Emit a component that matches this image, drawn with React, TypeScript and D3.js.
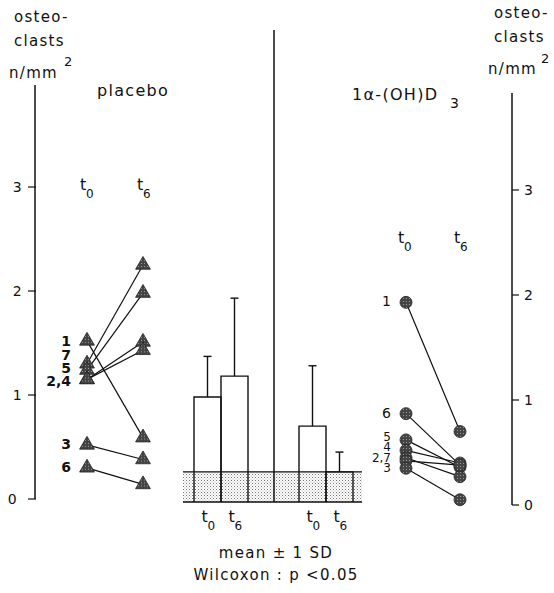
import React from "react";
import * as d3 from "d3";

const ticks = [0, 1, 2, 3];

const placeboIds = ["1", "7", "5", "2", "4", "3", "6"];
const placeboT0 = [1.52, 1.3, 1.24, 1.15, 1.15, 0.52, 0.3];
const placeboT6 = [0.59, 2.25, 1.98, 1.51, 1.43, 0.38, 0.14];
const placeboLabels = ["1", "7", "5", "2,4", "3", "6"];
const placeboLabelVals = [1.52, 1.38, 1.26, 1.13, 0.53, 0.31];

const vitIds = ["1", "6", "5", "4", "2", "7", "3"];
const vitT0 = [1.93, 0.87, 0.62, 0.52, 0.45, 0.42, 0.35];
const vitT6 = [0.7, 0.38, 0.36, 0.4, 0.27, 0.38, 0.05];
const vitLabels = ["1", "6", "5", "4", "2,7", "3"];
const vitLabelVals = [1.93, 0.87, 0.65, 0.55, 0.45, 0.35];

const barGroups = ["placebo t0", "placebo t6", "vit t0", "vit t6"];
const barMeans = [1.01, 1.21, 0.73, 0.29];
const barSD = [0.39, 0.75, 0.58, 0.19];
const barTimeLabels = ["0", "6", "0", "6"];
const normalRange = 0.29;

const font = "'DejaVu Sans', sans-serif";

export default function App() {
  const yL = d3.scaleLinear().domain([0, 3]).range([499, 187]);
  const yR = d3.scaleLinear().domain([0, 3]).range([505, 190]);
  const yM = d3.scaleLinear().domain([0, 3]).range([502, 190]);
  const barX = d3.scaleOrdinal<string, number>().domain(barGroups).range([194, 221, 299, 326]);
  const barW = 27;

  const xPl0 = 87, xPl6 = 143;
  const xV0 = 406, xV6 = 460;

  const tri = d3.symbol().type(d3.symbolTriangle).size(95);

  const textStyle: React.CSSProperties = { fontFamily: font, letterSpacing: "1.3px" };

  return (
    <svg width={554} height={593} style={{ position: "absolute", left: 0, top: 0, background: "#fff" }}>
      <defs>
        <pattern id="dots" width="3" height="3" patternUnits="userSpaceOnUse">
          <rect width="3" height="3" fill="#fff" />
          <rect x="0" y="0" width="1" height="1" fill="#777" />
          <rect x="1.5" y="1.5" width="1" height="1" fill="#aaa" />
        </pattern>
        <pattern id="stip" width="3" height="3" patternUnits="userSpaceOnUse">
          <rect width="3" height="3" fill="#444" />
          <rect x="1" y="1" width="1" height="1" fill="#999" />
        </pattern>
      </defs>

      {/* Left axis title */}
      <g fontSize={15} fill="#111" style={textStyle}>
        <text x={14} y={22}>osteo-</text>
        <text x={14} y={46}>clasts</text>
        <text x={9} y={78}>n/mm</text>
        <text x={64} y={66} fontSize={13}>2</text>
        <text x={97} y={96} fontSize={16}>placebo</text>
      </g>
      {/* Right axis title */}
      <g fontSize={15} fill="#111" style={textStyle}>
        <text x={494} y={18}>osteo-</text>
        <text x={494} y={42}>clasts</text>
        <text x={488} y={74}>n/mm</text>
        <text x={541} y={63} fontSize={13}>2</text>
        <text x={352} y={100} fontSize={16}>1α-(OH)D</text>
        <text x={450} y={108} fontSize={14}>3</text>
      </g>

      {/* Left axis */}
      <line x1={35} x2={35} y1={85} y2={yL(0)} stroke="#111" strokeWidth={1.5} />
      {ticks.map((t) => (
        <g key={"lt" + t}>
          <line x1={28} x2={36} y1={yL(t)} y2={yL(t)} stroke="#111" strokeWidth={1.2} />
          <text x={t === 0 ? 18 : 23} y={yL(t) + 5} fontSize={14} textAnchor="end" style={textStyle} fill="#111">
            {t}
          </text>
        </g>
      ))}

      {/* Right axis */}
      <line x1={512} x2={512} y1={93} y2={yR(0)} stroke="#111" strokeWidth={1.5} />
      {ticks.map((t) => (
        <g key={"rt" + t}>
          <line x1={512} x2={519} y1={yR(t)} y2={yR(t)} stroke="#111" strokeWidth={1.2} />
          <text x={524} y={yR(t) + 5} fontSize={14} style={textStyle} fill="#111">
            {t}
          </text>
        </g>
      ))}

      {/* time labels */}
      <g fontSize={16} fill="#111" style={{ fontFamily: font }}>
        <text x={80} y={190}>t</text>
        <text x={86} y={198} fontSize={12}>0</text>
        <text x={137} y={190}>t</text>
        <text x={143} y={198} fontSize={12}>6</text>
        <text x={398} y={243}>t</text>
        <text x={404} y={251} fontSize={12}>0</text>
        <text x={454} y={243}>t</text>
        <text x={460} y={251} fontSize={12}>6</text>
      </g>

      {/* Placebo lines */}
      {placeboIds.map((id, i) => (
        <line key={"pl" + i} x1={xPl0} y1={yL(placeboT0[i])} x2={xPl6} y2={yL(placeboT6[i])} stroke="#111" strokeWidth={1.2} />
      ))}
      {placeboIds.map((id, i) => (
        <g key={"pt" + i}>
          <path d={tri()!} transform={`translate(${xPl0},${yL(placeboT0[i])})`} fill="url(#stip)" stroke="#222" strokeWidth={0.8} />
          <path d={tri()!} transform={`translate(${xPl6},${yL(placeboT6[i])})`} fill="url(#stip)" stroke="#222" strokeWidth={0.8} />
        </g>
      ))}
      {placeboLabels.map((l, i) => (
        <text key={"plab" + i} x={71} y={yL(placeboLabelVals[i]) + 5} textAnchor="end" fontSize={14} fontWeight={600} fill="#111" style={{ fontFamily: font }}>
          {l}
        </text>
      ))}

      {/* Vitamin lines */}
      {vitIds.map((id, i) => (
        <line key={"vl" + i} x1={xV0} y1={yR(vitT0[i])} x2={xV6} y2={yR(vitT6[i])} stroke="#111" strokeWidth={1.2} />
      ))}
      {vitIds.map((id, i) => (
        <g key={"vp" + i}>
          <circle cx={xV0} cy={yR(vitT0[i])} r={6} fill="url(#stip)" stroke="#222" strokeWidth={0.8} />
          <circle cx={xV6} cy={yR(vitT6[i])} r={6} fill="url(#stip)" stroke="#222" strokeWidth={0.8} />
        </g>
      ))}
      {vitLabels.map((l, i) => (
        <text key={"vlab" + i} x={391} y={yR(vitLabelVals[i]) + 4} textAnchor="end" fontSize={i >= 2 ? 12 : 14} fill="#111" style={{ fontFamily: font }}>
          {l}
        </text>
      ))}

      {/* Middle bars */}
      {barGroups.map((g, i) => (
        <rect key={"bw" + i} x={barX(g)} y={yM(barMeans[i])} width={barW} height={yM(0) - yM(barMeans[i])} fill="#fff" />
      ))}
      <rect x={183} y={yM(normalRange)} width={362 - 183} height={yM(0) - yM(normalRange)} fill="url(#dots)" />
      <line x1={183} x2={362} y1={yM(normalRange)} y2={yM(normalRange)} stroke="#111" strokeWidth={1.2} />
      <line x1={183} x2={362} y1={yM(0)} y2={yM(0)} stroke="#111" strokeWidth={1.5} />
      <line x1={274} x2={274} y1={30} y2={yM(0)} stroke="#111" strokeWidth={1.5} />
      {barGroups.map((g, i) => {
        const x0 = barX(g);
        const m = barMeans[i];
        const cx = x0 + barW / 2;
        return (
          <g key={"b" + i}>
            <path d={`M${x0},${yM(0)}V${yM(m)}H${x0 + barW}V${yM(0)}`} fill="none" stroke="#111" strokeWidth={1.4} />
            <line x1={cx} x2={cx} y1={yM(m)} y2={yM(m + barSD[i])} stroke="#111" strokeWidth={1.4} />
            <line x1={cx - 4} x2={cx + 4} y1={yM(m + barSD[i])} y2={yM(m + barSD[i])} stroke="#111" strokeWidth={1.4} />
            <text x={cx - 6} y={522} fontSize={16} fill="#111" style={{ fontFamily: font }}>t</text>
            <text x={cx} y={530} fontSize={12} fill="#111" style={{ fontFamily: font }}>{barTimeLabels[i]}</text>
          </g>
        );
      })}

      {/* Bottom notes */}
      <g fontSize={15} fill="#111" textAnchor="middle" style={textStyle}>
        <text x={276} y={558}>mean ± 1 SD</text>
        <text x={276} y={580}>Wilcoxon : p &lt;0.05</text>
      </g>
    </svg>
  );
}
